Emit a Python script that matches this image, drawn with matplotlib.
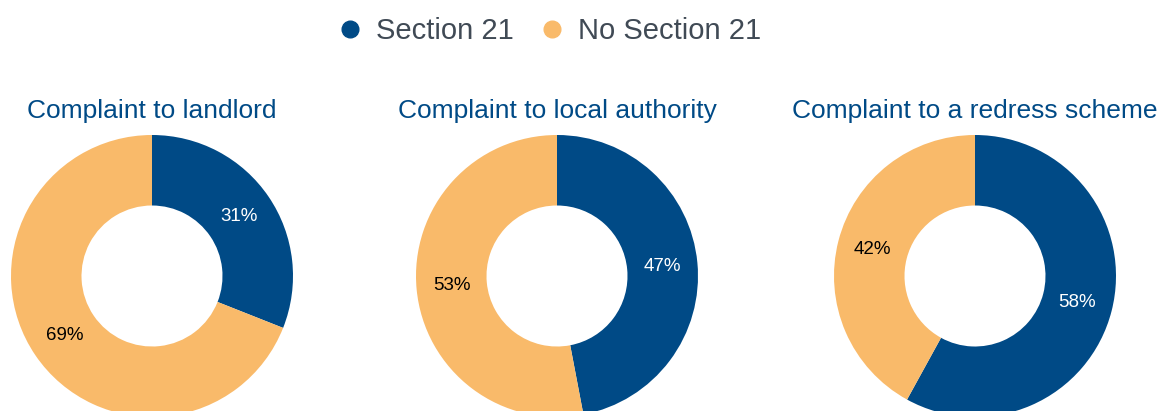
import matplotlib
matplotlib.use("Agg")
import matplotlib.pyplot as plt
from matplotlib.lines import Line2D

plt.rcParams['font.family'] = ['Liberation Sans', 'DejaVu Sans']

titles = ['Complaint to landlord', 'Complaint to local authority', 'Complaint to a redress scheme']
series = ['Section 21', 'No Section 21']
section21 = [31, 47, 58]
no_section21 = [69, 53, 42]

navy = '#004A86'
orange = '#F9BA6A'

W, H = 1158, 411
fig = plt.figure(figsize=(W / 100, H / 100), dpi=100)

centers_x = [152, 557, 975]
center_y = 276
r = 141

for i, cx in enumerate(centers_x):
    ax = fig.add_axes([(cx - r) / W, (H - center_y - r) / H, 2 * r / W, 2 * r / H])
    vals = [section21[i], no_section21[i]]
    wedges, texts, autotexts = ax.pie(vals, colors=[navy, orange], startangle=90,
                                      counterclock=False, radius=1,
                                      wedgeprops=dict(width=0.5, linewidth=0),
                                      autopct=lambda p: f'{round(p)}%', pctdistance=0.75,
                                      textprops=dict(fontsize=13.5))
    autotexts[0].set_color('white')
    autotexts[1].set_color('black')
    ax.set_xlim(-1, 1)
    ax.set_ylim(-1, 1)
    ax.axis('off')
    fig.text(cx / W, 1 - 111 / H, titles[i], ha='center', va='center',
             fontsize=19, color=navy)

handles = [Line2D([], [], marker='o', linestyle='', markersize=12, color=c) for c in (navy, orange)]
fig.legend(handles, series, loc='center', bbox_to_anchor=(548 / W, 1 - 31 / H),
           ncol=2, frameon=False, fontsize=21, labelcolor='#404a55',
           handletextpad=0.4, columnspacing=0.8, handlelength=1.0)

fig.savefig('out.png', dpi=100)
